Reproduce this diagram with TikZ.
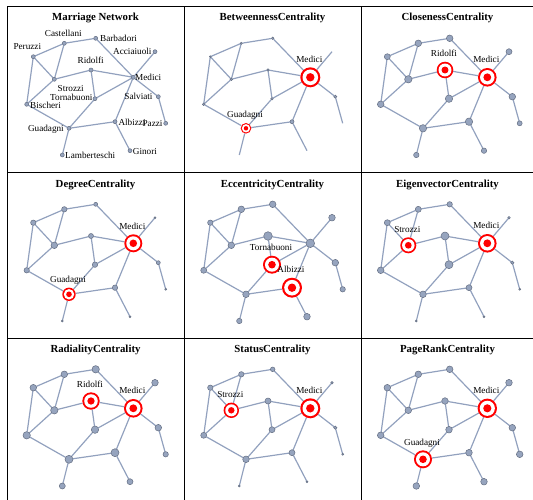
\documentclass[tikz,border=0pt]{standalone}
\usepackage{fontspec}
\setmainfont{Liberation Serif}
\usetikzlibrary{backgrounds}
\definecolor{vfill}{RGB}{150,164,190}
\definecolor{vdraw}{RGB}{100,110,130}
\definecolor{ecol}{RGB}{146,161,190}
\newcommand\lblfont{\fontsize{9.2}{10}\selectfont}
\newcommand\ttlfont{\fontsize{10.8}{12}\selectfont\bfseries}
\newcommand\defpos[3]{\expandafter\def\csname px#1\endcsname{#2}\expandafter\def\csname py#1\endcsname{#3}}
\defpos{Cas}{57.3}{36.3}
\defpos{Bar}{88.7}{31.3}
\defpos{Per}{26.3}{49.7}
\defpos{Acc}{148}{44.7}
\defpos{Rid}{84}{63}
\defpos{Str}{47.3}{72.3}
\defpos{Med}{126.3}{70.3}
\defpos{Tor}{88}{91.7}
\defpos{Sal}{151.3}{89.7}
\defpos{Bis}{19.7}{97.3}
\defpos{Alb}{108}{114.7}
\defpos{Paz}{158.7}{116.3}
\defpos{Gua}{62}{121.3}
\defpos{Gin}{123}{143.7}
\defpos{Lam}{55.3}{148}
\tikzset{
  edge/.style={draw=ecol, line width=1.2pt},
  vtx/.style={circle, fill=vfill, draw=vdraw, line width=0.5pt, inner sep=0pt, outer sep=0pt},
  hid/.style={circle, inner sep=0pt, outer sep=0pt},
  lbl/.style={font=\lblfont, inner sep=0pt, text height=6.2pt, text depth=0pt, text=black},
  ttl/.style={font=\ttlfont, inner sep=0pt, anchor=base},
  gridline/.style={line width=1pt, draw=black}
}
\newcommand\vx[3]{\node[vtx, minimum size=#3*2pt] (#1#2) at (\csname px#2\endcsname,\csname py#2\endcsname) {};}
\newcommand\hx[2]{\node[hid, minimum size=0pt] (#1#2) at (\csname px#2\endcsname,\csname py#2\endcsname) {};}
\newcommand\tg[4]{%
  \node[hid, minimum size=#3*2pt] (#1#2) at (\csname px#2\endcsname,\csname py#2\endcsname) {};
  \fill[red] (#1#2.center) circle (#3pt);
  \fill[white] (#1#2.center) circle (0.78*#3pt);
  \fill[red] (#1#2.center) circle (0.42*#3pt);
  \node[lbl, anchor=south] (#1L#2) at ([xshift=-1pt,yshift=5pt]#1#2.north) {#4};}
\newcommand\famedges[1]{%
  \begin{scope}[on background layer]
  \draw[edge] (#1Acc)--(#1Med) (#1Alb)--(#1Gin) (#1Alb)--(#1Gua) (#1Alb)--(#1Med)
    (#1Bar)--(#1Cas) (#1Bar)--(#1Med) (#1Bis)--(#1Gua) (#1Bis)--(#1Per)
    (#1Bis)--(#1Str) (#1Cas)--(#1Per) (#1Cas)--(#1Str) (#1Gua)--(#1Lam)
    (#1Gua)--(#1Tor) (#1Med)--(#1Rid) (#1Med)--(#1Sal) (#1Med)--(#1Tor)
    (#1Paz)--(#1Sal) (#1Per)--(#1Str) (#1Rid)--(#1Str) (#1Rid)--(#1Tor);
  \end{scope}}
\begin{document}
\begin{tikzpicture}[x=1pt, y=-1pt]
\useasboundingbox (0,0) rectangle (533,500);
% grid
\draw[gridline] (7,500) -- (7,7) -- (533,7);
\draw[gridline] (184,7) -- (184,500);
\draw[gridline] (361,7) -- (361,500);
\draw[gridline] (7,173) -- (533,173);
\draw[gridline] (7,338) -- (533,338);

% Panel 1: Marriage Network
\begin{scope}[shift={(7,7)}]
\node[ttl] (ta) at (88.5,14) {Marriage Network};
\vx{a}{Cas}{2}\vx{a}{Bar}{2}\vx{a}{Per}{2}\vx{a}{Acc}{2}\vx{a}{Rid}{2}
\vx{a}{Str}{2}\vx{a}{Med}{2}\vx{a}{Tor}{2}\vx{a}{Sal}{2}\vx{a}{Bis}{2}
\vx{a}{Alb}{2}\vx{a}{Paz}{2}\vx{a}{Gua}{2}\vx{a}{Gin}{2}\vx{a}{Lam}{2}
\famedges{a}
\node[lbl] (aLCas) at (56.3,26.3) {Castellani};
\node[lbl, anchor=west] (aLBar) at (93,31.3) {Barbadori};
\node[lbl] (aLPer) at (20.3,39.7) {Peruzzi};
\node[lbl, anchor=east] (aLAcc) at (144.7,44.7) {Acciaiuoli};
\node[lbl] (aLRid) at (83.7,53) {Ridolfi};
\node[lbl] (aLStr) at (63.7,81.3) {Strozzi};
\node[lbl, anchor=west] (aLMed) at (128,70.3) {Medici};
\node[lbl, anchor=east] (aLTor) at (85.7,90.7) {Tornabuoni};
\node[lbl, anchor=east] (aLSal) at (145.7,89.7) {Salviati};
\node[lbl, anchor=west] (aLBis) at (23,98) {Bischeri};
\node[lbl, anchor=west] (aLAlb) at (111.3,115) {Albizzi};
\node[lbl, anchor=east] (aLPaz) at (155.7,116) {Pazzi};
\node[lbl, anchor=east] (aLGua) at (57,121) {Guadagni};
\node[lbl, anchor=west] (aLGin) at (125.7,144) {Ginori};
\node[lbl, anchor=west] (aLLam) at (58,148) {Lamberteschi};
\end{scope}

% Panel 2: Betweenness
\begin{scope}[shift={(184,7)}]
\node[ttl] (tb) at (88.5,14) {BetweennessCentrality};
\vx{b}{Cas}{1.1}\vx{b}{Bar}{1.3}\vx{b}{Per}{0.9}\hx{b}{Acc}\vx{b}{Rid}{1.3}
\vx{b}{Str}{1.3}\vx{b}{Tor}{1.3}\vx{b}{Sal}{1.6}\vx{b}{Bis}{1.3}
\vx{b}{Alb}{2}\hx{b}{Paz}\hx{b}{Gin}\hx{b}{Lam}
\tg{b}{Med}{10}{Medici}
\tg{b}{Gua}{5.3}{Guadagni}
\famedges{b}
\end{scope}

% Panel 3: Closeness
\begin{scope}[shift={(361,7)}]
\node[ttl] (tc) at (86.5,14) {ClosenessCentrality};
\vx{c}{Cas}{3.3}\vx{c}{Bar}{3.3}\vx{c}{Per}{3}\vx{c}{Acc}{3}
\vx{c}{Str}{3.7}\vx{c}{Tor}{3.7}\vx{c}{Sal}{3.3}\vx{c}{Bis}{3.3}
\vx{c}{Alb}{3.7}\vx{c}{Paz}{2.5}\vx{c}{Gua}{3.7}\vx{c}{Gin}{2.7}\vx{c}{Lam}{2.7}
\tg{c}{Med}{9.3}{Medici}
\tg{c}{Rid}{8.3}{Ridolfi}
\famedges{c}
\end{scope}

% Panel 4: Degree
\begin{scope}[shift={(7,173)}]
\node[ttl] (td) at (88.5,14) {DegreeCentrality};
\vx{d}{Cas}{2.7}\vx{d}{Bar}{2}\vx{d}{Per}{2.7}\vx{d}{Acc}{1}\vx{d}{Rid}{2.5}
\vx{d}{Str}{3.3}\vx{d}{Tor}{2.7}\vx{d}{Sal}{2}\vx{d}{Bis}{2.7}
\vx{d}{Alb}{2.7}\vx{d}{Paz}{1}\vx{d}{Gin}{1}\vx{d}{Lam}{1}
\tg{d}{Med}{9}{Medici}
\tg{d}{Gua}{6.7}{Guadagni}
\famedges{d}
\end{scope}

% Panel 5: Eccentricity
\begin{scope}[shift={(184,173)}]
\node[ttl] (te) at (88.5,14) {EccentricityCentrality};
\vx{e}{Cas}{3.3}\vx{e}{Bar}{3.3}\vx{e}{Per}{2.7}\vx{e}{Acc}{3.3}\vx{e}{Rid}{4.3}
\vx{e}{Str}{3.3}\vx{e}{Med}{4.3}\vx{e}{Sal}{3.3}\vx{e}{Bis}{3}
\vx{e}{Paz}{2.7}\vx{e}{Gua}{3.3}\vx{e}{Gin}{3.3}\vx{e}{Lam}{2.7}
\tg{e}{Tor}{9}{Tornabuoni}
\tg{e}{Alb}{10}{Albizzi}
\famedges{e}
\end{scope}

% Panel 6: Eigenvector
\begin{scope}[shift={(361,173)}]
\node[ttl] (tf) at (86.5,14) {EigenvectorCentrality};
\vx{f}{Cas}{3}\vx{f}{Bar}{2.7}\vx{f}{Per}{3}\vx{f}{Acc}{1.3}\vx{f}{Rid}{4}
\vx{f}{Tor}{4}\vx{f}{Sal}{1.7}\vx{f}{Bis}{3.3}
\vx{f}{Alb}{3}\vx{f}{Paz}{1}\vx{f}{Gua}{3.3}\vx{f}{Gin}{1}\vx{f}{Lam}{1}
\tg{f}{Med}{9.3}{Medici}
\tg{f}{Str}{8}{Strozzi}
\famedges{f}
\end{scope}

% Panel 7: Radiality
\begin{scope}[shift={(7,338)}]
\node[ttl] (tg) at (88.5,14) {RadialityCentrality};
\vx{g}{Cas}{3.3}\vx{g}{Bar}{3.7}\vx{g}{Per}{3.3}\vx{g}{Acc}{3.3}
\vx{g}{Str}{3.7}\vx{g}{Tor}{3.7}\vx{g}{Sal}{3.3}\vx{g}{Bis}{3.7}
\vx{g}{Alb}{4}\vx{g}{Paz}{2.7}\vx{g}{Gua}{4}\vx{g}{Gin}{3}\vx{g}{Lam}{3}
\tg{g}{Med}{9.3}{Medici}
\tg{g}{Rid}{8.7}{Ridolfi}
\famedges{g}
\end{scope}

% Panel 8: Status
\begin{scope}[shift={(184,338)}]
\node[ttl] (th) at (88.5,14) {StatusCentrality};
\vx{h}{Cas}{2.7}\vx{h}{Bar}{2.3}\vx{h}{Per}{2.7}\vx{h}{Acc}{1.3}\vx{h}{Rid}{3}
\vx{h}{Tor}{3}\vx{h}{Sal}{1.7}\vx{h}{Bis}{3}
\vx{h}{Alb}{3}\vx{h}{Paz}{1}\vx{h}{Gua}{3.3}\vx{h}{Gin}{1}\vx{h}{Lam}{1}
\tg{h}{Med}{10}{Medici}
\tg{h}{Str}{7.7}{Strozzi}
\famedges{h}
\end{scope}

% Panel 9: PageRank
\begin{scope}[shift={(361,338)}]
\node[ttl] (ti) at (86.5,14) {PageRankCentrality};
\vx{i}{Cas}{3.3}\vx{i}{Bar}{3.3}\vx{i}{Per}{3.3}\vx{i}{Acc}{3.3}\vx{i}{Rid}{3.3}
\vx{i}{Str}{3.3}\vx{i}{Tor}{3.3}\vx{i}{Sal}{3.3}\vx{i}{Bis}{3.3}
\vx{i}{Alb}{3.3}\vx{i}{Paz}{3.3}\vx{i}{Gin}{3.3}\vx{i}{Lam}{3.3}
\tg{i}{Med}{9.7}{Medici}
\tg{i}{Gua}{9}{Guadagni}
\famedges{i}
\end{scope}
\end{tikzpicture}
\end{document}
